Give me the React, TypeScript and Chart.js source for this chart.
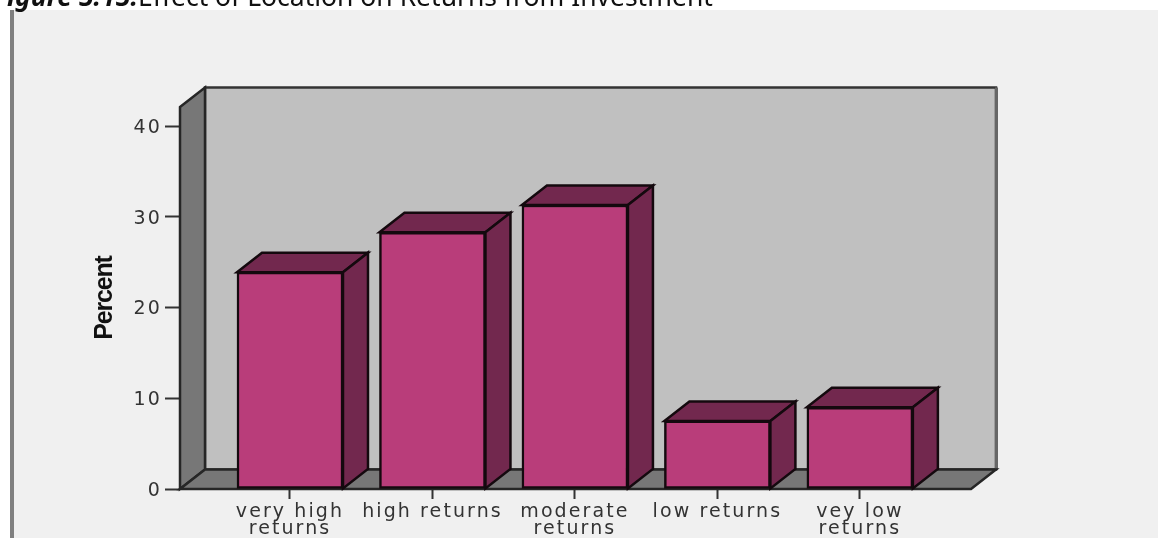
import React, { useEffect, useRef } from "react";
import { Chart, registerables } from "chart.js";

Chart.register(...registerables);

const categories: string[][] = [
  ["very high", "returns"],
  ["high returns"],
  ["moderate", "returns"],
  ["low returns"],
  ["vey low", "returns"],
];
const percentValues = [23.9, 28.3, 31.3, 7.5, 9.0];
const captionLead = "Figure 5.15:";
const captionRest = "Effect of Location on Returns from Investment";

const DEPTH_X = 25;
const DEPTH_Y = 19.5;

const polygon = (
  ctx: CanvasRenderingContext2D,
  pts: number[][],
  fill: string,
  stroke: string,
  lineWidth: number
) => {
  ctx.beginPath();
  pts.forEach(([x, y], i) => (i ? ctx.lineTo(x, y) : ctx.moveTo(x, y)));
  ctx.closePath();
  ctx.fillStyle = fill;
  ctx.fill();
  ctx.strokeStyle = stroke;
  ctx.lineWidth = lineWidth;
  ctx.stroke();
};

// Page backdrop and the caption line that runs off the top edge.
const backdrop = {
  id: "backdrop",
  beforeDraw(chart: Chart) {
    const { ctx, width, height } = chart;
    ctx.save();
    ctx.fillStyle = "#ffffff";
    ctx.fillRect(0, 0, width, height);
    ctx.fillStyle = "#f0f0f0";
    ctx.fillRect(14, 10, width - 14, height - 10);
    ctx.fillStyle = "#808080";
    ctx.fillRect(10, 10, 4, height - 10);
    ctx.fillStyle = "#111111";
    ctx.textBaseline = "alphabetic";
    ctx.textAlign = "right";
    ctx.font = "italic bold 26.5px 'Noto Sans'";
    ctx.fillText(captionLead, 138, 6);
    ctx.textAlign = "left";
    ctx.font = "26.5px 'Noto Sans'";
    ctx.fillText(captionRest, 138, 6);
    ctx.restore();
    // The axis title draws next, on the scale's first layer, and is set tight.
    (ctx as any).letterSpacing = "-1.2px";
  },
};

// The box behind the bars: back wall, left wall and floor.
const plotBox = {
  id: "plotBox",
  beforeDatasetsDraw(chart: Chart) {
    const { ctx, chartArea: a } = chart;
    const backL = a.left + DEPTH_X;
    const backR = a.right + DEPTH_X;
    const backT = a.top - DEPTH_Y;
    const backB = a.bottom - DEPTH_Y;
    ctx.save();
    ctx.lineJoin = "miter";
    polygon(ctx, [[backL, backT], [backR, backT], [backR, backB], [backL, backB]], "#c0c0c0", "#333333", 2.5);
    ctx.fillStyle = "#666666";
    ctx.fillRect(backR - 1, backT, 3, backB - backT);
    polygon(ctx, [[a.left, a.top], [backL, backT], [backL, backB], [a.left, a.bottom]], "#777777", "#262626", 2.5);
    polygon(ctx, [[a.left, a.bottom], [backL, backB], [backR, backB], [a.right, a.bottom]], "#777777", "#262626", 2.5);
    ctx.restore();
  },
};

// Top and right faces of each bar, set behind the front faces the library draws.
const barFaces = {
  id: "barFaces",
  beforeDatasetDraw(chart: Chart) {
    const { ctx } = chart;
    const meta = chart.getDatasetMeta(0);
    ctx.save();
    meta.data.forEach((el: any) => {
      const { x, y, base, width } = el.getProps(["x", "y", "base", "width"], true);
      const l = x - width / 2;
      const r = x + width / 2;
      polygon(ctx, [[l, y], [l + DEPTH_X, y - DEPTH_Y], [r + DEPTH_X, y - DEPTH_Y], [r, y]], "#72284e", "#14090e", 2.5);
      polygon(ctx, [[r, y], [r + DEPTH_X, y - DEPTH_Y], [r + DEPTH_X, base - DEPTH_Y], [r, base]], "#72284e", "#14090e", 2.5);
    });
    ctx.restore();
  },
};

// Tick labels are set wide; they draw on their own layer after the datasets.
const wideTicks = {
  id: "wideTicks",
  afterDatasetsDraw(chart: Chart) {
    (chart.ctx as any).letterSpacing = "2.1px";
  },
  afterDraw(chart: Chart) {
    (chart.ctx as any).letterSpacing = "0px";
  },
};

export default function App() {
  const ref = useRef<HTMLCanvasElement>(null);

  useEffect(() => {
    const chart = new Chart(ref.current!, {
      type: "bar",
      data: {
        datasets: [
          {
            data: percentValues.map((v, i) => ({ x: i, y: v })),
            backgroundColor: "#b93d7a",
            borderColor: "#14090e",
            borderWidth: 2.5,
            borderSkipped: false,
            barThickness: 106,
          },
        ],
      },
      options: {
        animation: false,
        responsive: false,
        layout: { padding: { top: 107, right: 187, left: 0, bottom: 0 } },
        plugins: { legend: { display: false }, tooltip: { enabled: false } },
        scales: {
          x: {
            type: "linear",
            offset: false,
            min: -0.772,
            max: 4.78,
            afterFit: (s: any) => {
              s.height = 49;
            },
            border: { color: "#262626", width: 2 },
            grid: { offset: false, drawOnChartArea: false, tickLength: 10, tickWidth: 2, tickColor: "#333333" },
            ticks: {
              z: 1,
              stepSize: 1,
              includeBounds: false,
              autoSkip: false,
              maxRotation: 0,
              padding: 5,
              color: "#333333",
              font: { family: "'DejaVu Sans'", size: 19, lineHeight: 0.88 },
              callback: (v: any) => categories[v] ?? "",
            },
          },
          y: {
            min: 0,
            max: 42.1,
            afterFit: (s: any) => {
              s.width = 180;
            },
            border: { color: "#262626", width: 3 },
            grid: { drawOnChartArea: false, tickLength: 15, tickWidth: 2, tickColor: "#333333" },
            title: {
              display: true,
              text: "Percent",
              color: "#111111",
              font: { family: "'Liberation Sans'", size: 25, weight: "bold" },
              padding: { top: 90, bottom: 0 },
            },
            ticks: {
              z: 1,
              stepSize: 10,
              includeBounds: false,
              padding: 3,
              labelOffset: 2,
              color: "#333333",
              font: { family: "'DejaVu Sans'", size: 19 },
            },
          },
        },
      },
      plugins: [backdrop, plotBox, barFaces, wideTicks],
    } as any);
    return () => chart.destroy();
  }, []);

  return (
    <canvas
      ref={ref}
      width={1158}
      height={538}
      style={{ position: "fixed", left: 0, top: 0, display: "block" }}
    />
  );
}
